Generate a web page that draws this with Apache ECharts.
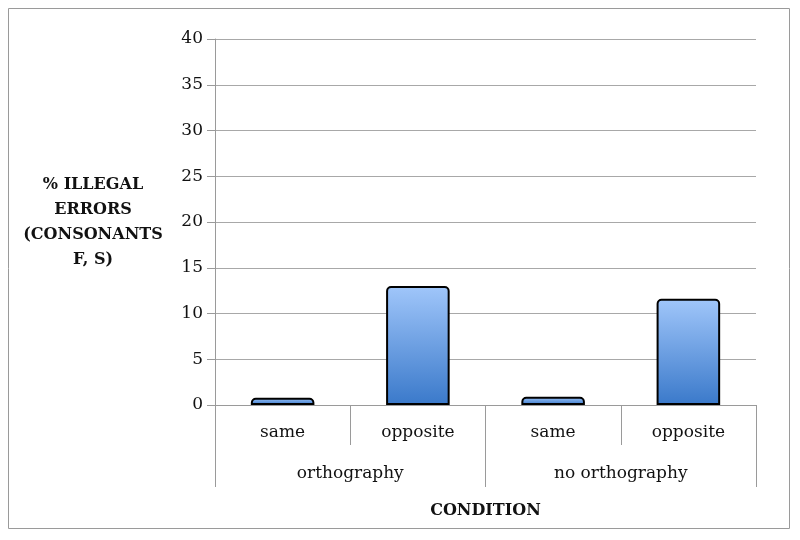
<!DOCTYPE html>
<html><head><meta charset="utf-8">
<script src="https://cdn.jsdelivr.net/npm/echarts@6/dist/echarts.min.js"></script>
<style>html,body{margin:0;padding:0;background:#fff}#c{width:800px;height:540px}</style>
</head><body><div id="c"></div>
<script>
const innerCategories = ['same', 'opposite', 'same', 'opposite'];
const outerCategories = ['orthography', 'no orthography'];
const values = [0.8, 13.0, 0.9, 11.6];
const yTicks = { min: 0, max: 40, interval: 5 };
const yAxisName = '% ILLEGAL\nERRORS\n(CONSONANTS\nF, S)';
const xAxisName = 'CONDITION';

const font = 'DejaVu Serif';
const chart = echarts.init(document.getElementById('c'));
chart.setOption({
  animation: false,
  backgroundColor: '#fff',
  graphic: [{ type: 'rect', shape: { x: 8.5, y: 8.5, width: 781, height: 520 }, style: { fill: 'none', stroke: '#9a9a9a', lineWidth: 1 } }],
  grid: { left: 215, right: 44, top: 39, bottom: 135 },
  yAxis: {
    type: 'value', min: yTicks.min, max: yTicks.max, interval: yTicks.interval,
    axisLine: { show: true, lineStyle: { color: '#9a9a9a' } },
    axisTick: { show: true, length: 8, lineStyle: { color: '#9a9a9a' } },
    axisLabel: { color: '#111', fontFamily: font, fontSize: 17, margin: 12 },
    splitLine: { lineStyle: { color: '#a8a8a8', width: 1.2 } },
    name: yAxisName, nameLocation: 'middle', nameRotate: 0, nameGap: 122,
    nameTextStyle: { fontFamily: font, fontWeight: 'bold', fontSize: 16, color: '#111', align: 'center', lineHeight: 25 }
  },
  xAxis: [{
    type: 'category', data: innerCategories, position: 'bottom',
    axisLine: { lineStyle: { color: '#9a9a9a' } },
    axisTick: { show: true, length: 40, lineStyle: { color: '#9a9a9a' } },
    axisLabel: { color: '#111', fontFamily: font, fontSize: 17, margin: 19 }
  }, {
    type: 'category', data: outerCategories, position: 'bottom',
    axisLine: { show: false },
    axisTick: { show: true, length: 82, lineStyle: { color: '#9a9a9a' } },
    axisLabel: { color: '#111', fontFamily: font, fontSize: 17, margin: 60 },
    splitLine: { show: false },
    name: xAxisName, nameLocation: 'middle', nameGap: 98,
    nameTextStyle: { fontFamily: font, fontWeight: 'bold', fontSize: 16, color: '#111' }
  }],
  series: [{
    type: 'bar', xAxisIndex: 0, data: values, barWidth: '47%',
    itemStyle: {
      color: new echarts.graphic.LinearGradient(0, 0, 0, 1, [
        { offset: 0, color: '#a0c6fa' }, { offset: 1, color: '#3a79ca' }]),
      borderColor: '#000', borderWidth: 2, borderRadius: [4, 4, 0, 0]
    }
  }]
});
</script></body></html>
